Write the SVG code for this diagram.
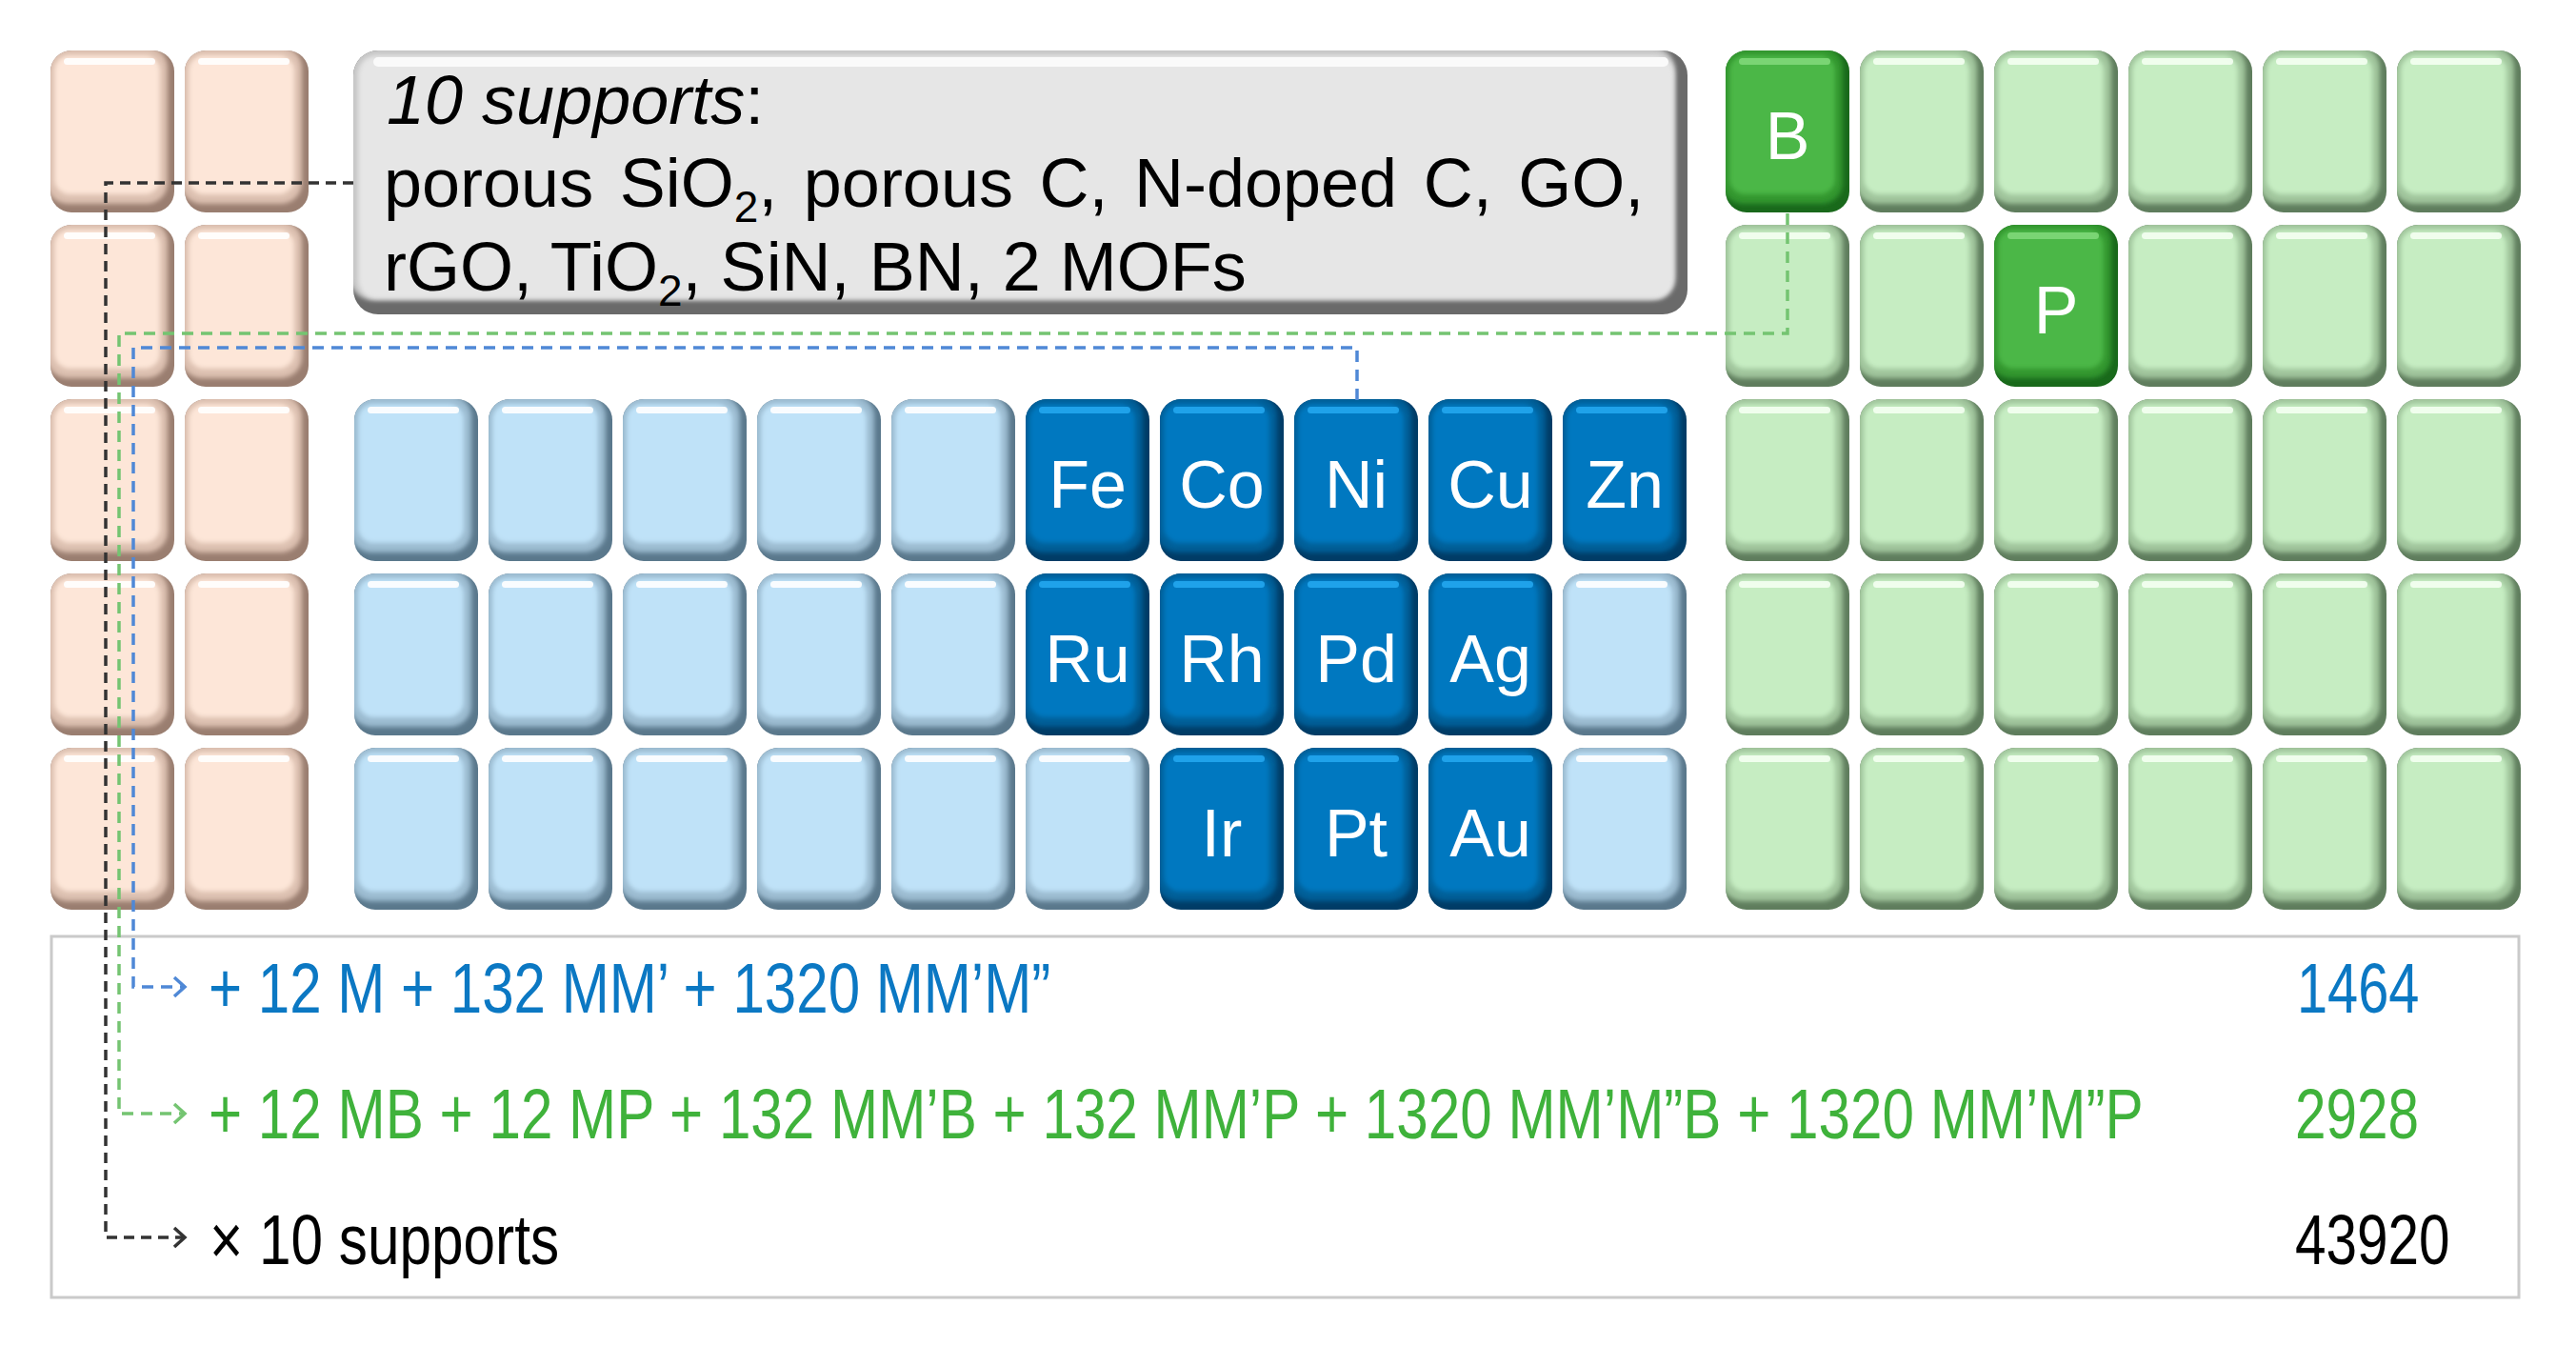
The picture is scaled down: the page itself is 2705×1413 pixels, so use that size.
<svg xmlns="http://www.w3.org/2000/svg" width="2705" height="1413" viewBox="0 0 2705 1413">
<style>
.lbl{font-family:"Liberation Sans",Arial,sans-serif;font-size:70px;fill:#fff;text-anchor:middle}
.sup{font-family:"Liberation Sans",Arial,sans-serif;font-size:72px;fill:#000}
.btm{font-family:"Liberation Sans",Arial,sans-serif;font-size:74px}
.tb{fill:#0b78c3}.tg{fill:#3fb23b}.tk{fill:#000}
.con{fill:none;stroke-width:3.5}
.ck{stroke:#333;stroke-dasharray:11 7;marker-end:url(#ak)}
.cg{stroke:#74c471;stroke-dasharray:12 8;marker-end:url(#ag)}
.cb{stroke:#4f88d6;stroke-dasharray:12 8;marker-end:url(#ab)}
</style>
<defs>
<clipPath id="tc"><rect width="130" height="170" rx="22"/></clipPath>
<clipPath id="sc"><rect x="371" y="53" width="1401" height="277" rx="26"/></clipPath>
<filter id="sf" x="-20%" y="-20%" width="140%" height="140%"><feGaussianBlur stdDeviation="2.5"/></filter>
<marker id="ak" markerUnits="userSpaceOnUse" markerWidth="18" markerHeight="24" refX="14" refY="12" orient="auto"><path d="M3,2 L14,12 L3,22" fill="none" stroke="#333" stroke-width="3.5"/></marker>
<marker id="ag" markerUnits="userSpaceOnUse" markerWidth="18" markerHeight="24" refX="14" refY="12" orient="auto"><path d="M3,2 L14,12 L3,22" fill="none" stroke="#74c471" stroke-width="3.5"/></marker>
<marker id="ab" markerUnits="userSpaceOnUse" markerWidth="18" markerHeight="24" refX="14" refY="12" orient="auto"><path d="M3,2 L14,12 L3,22" fill="none" stroke="#4f88d6" stroke-width="3.5"/></marker>
<g id="t-peach"><g clip-path="url(#tc)">
<rect width="130" height="170" fill="#9a7e70"/>
<rect x="-4" y="-4" width="127" height="165" rx="22" fill="#dcc0b0" filter="url(#sf)"/>
<rect x="4" y="5" width="111" height="146" rx="16" fill="#fde6d8" filter="url(#sf)"/>
<rect x="14" y="8" width="96" height="7" rx="3.5" fill="#fff" opacity=".9"/>
</g></g>
<g id="t-lblue"><g clip-path="url(#tc)">
<rect width="130" height="170" fill="#5a788c"/>
<rect x="-4" y="-4" width="127" height="165" rx="22" fill="#9bbbd0" filter="url(#sf)"/>
<rect x="4" y="5" width="111" height="146" rx="16" fill="#bfe2f8" filter="url(#sf)"/>
<rect x="14" y="8" width="96" height="7" rx="3.5" fill="#fff" opacity=".9"/>
</g></g>
<g id="t-dblue"><g clip-path="url(#tc)">
<rect width="130" height="170" fill="#003c66"/>
<rect x="-4" y="-4" width="127" height="165" rx="22" fill="#005e98" filter="url(#sf)"/>
<rect x="4" y="5" width="111" height="146" rx="16" fill="#0078c0" filter="url(#sf)"/>
<rect x="14" y="8" width="96" height="7" rx="3.5" fill="#22a6ee" opacity=".9"/>
</g></g>
<g id="t-lgreen"><g clip-path="url(#tc)">
<rect width="130" height="170" fill="#5f7d5d"/>
<rect x="-4" y="-4" width="127" height="165" rx="22" fill="#a0c59c" filter="url(#sf)"/>
<rect x="4" y="5" width="111" height="146" rx="16" fill="#c6edc2" filter="url(#sf)"/>
<rect x="14" y="8" width="96" height="7" rx="3.5" fill="#f4fff2" opacity=".9"/>
</g></g>
<g id="t-dgreen"><g clip-path="url(#tc)">
<rect width="130" height="170" fill="#19691b"/>
<rect x="-4" y="-4" width="127" height="165" rx="22" fill="#32962e" filter="url(#sf)"/>
<rect x="4" y="5" width="111" height="146" rx="16" fill="#4bb747" filter="url(#sf)"/>
<rect x="14" y="8" width="96" height="7" rx="3.5" fill="#7fd879" opacity=".9"/>
</g></g>
</defs>
<rect width="2705" height="1413" fill="#fff"/>

<!-- peach tiles -->
<g id="peach">
<g id="pe-1-1"><use href="#t-peach" x="53" y="53"/></g>
<g id="pe-1-2"><use href="#t-peach" x="194" y="53"/></g>
<g id="pe-2-1"><use href="#t-peach" x="53" y="236"/></g>
<g id="pe-2-2"><use href="#t-peach" x="194" y="236"/></g>
<g id="pe-3-1"><use href="#t-peach" x="53" y="419"/></g>
<g id="pe-3-2"><use href="#t-peach" x="194" y="419"/></g>
<g id="pe-4-1"><use href="#t-peach" x="53" y="602"/></g>
<g id="pe-4-2"><use href="#t-peach" x="194" y="602"/></g>
<g id="pe-5-1"><use href="#t-peach" x="53" y="785"/></g>
<g id="pe-5-2"><use href="#t-peach" x="194" y="785"/></g>
</g>

<!-- transition metal tiles -->
<g id="tm">
<g id="lb-3-1"><use href="#t-lblue" x="372" y="419"/></g>
<g id="lb-3-2"><use href="#t-lblue" x="513" y="419"/></g>
<g id="lb-3-3"><use href="#t-lblue" x="654" y="419"/></g>
<g id="lb-3-4"><use href="#t-lblue" x="795" y="419"/></g>
<g id="lb-3-5"><use href="#t-lblue" x="936" y="419"/></g>
<g id="fe"><use href="#t-dblue" x="1077" y="419"/><text class="lbl" x="1142" y="533">Fe</text></g>
<g id="co"><use href="#t-dblue" x="1218" y="419"/><text class="lbl" x="1283" y="533">Co</text></g>
<g id="ni"><use href="#t-dblue" x="1359" y="419"/><text class="lbl" x="1424" y="533">Ni</text></g>
<g id="cu"><use href="#t-dblue" x="1500" y="419"/><text class="lbl" x="1565" y="533">Cu</text></g>
<g id="zn"><use href="#t-dblue" x="1641" y="419"/><text class="lbl" x="1706" y="533">Zn</text></g>

<g id="lb-4-1"><use href="#t-lblue" x="372" y="602"/></g>
<g id="lb-4-2"><use href="#t-lblue" x="513" y="602"/></g>
<g id="lb-4-3"><use href="#t-lblue" x="654" y="602"/></g>
<g id="lb-4-4"><use href="#t-lblue" x="795" y="602"/></g>
<g id="lb-4-5"><use href="#t-lblue" x="936" y="602"/></g>
<g id="ru"><use href="#t-dblue" x="1077" y="602"/><text class="lbl" x="1142" y="716">Ru</text></g>
<g id="rh"><use href="#t-dblue" x="1218" y="602"/><text class="lbl" x="1283" y="716">Rh</text></g>
<g id="pd"><use href="#t-dblue" x="1359" y="602"/><text class="lbl" x="1424" y="716">Pd</text></g>
<g id="ag"><use href="#t-dblue" x="1500" y="602"/><text class="lbl" x="1565" y="716">Ag</text></g>
<g id="lb-4-10"><use href="#t-lblue" x="1641" y="602"/></g>

<g id="lb-5-1"><use href="#t-lblue" x="372" y="785"/></g>
<g id="lb-5-2"><use href="#t-lblue" x="513" y="785"/></g>
<g id="lb-5-3"><use href="#t-lblue" x="654" y="785"/></g>
<g id="lb-5-4"><use href="#t-lblue" x="795" y="785"/></g>
<g id="lb-5-5"><use href="#t-lblue" x="936" y="785"/></g>
<g id="lb-5-6"><use href="#t-lblue" x="1077" y="785"/></g>
<g id="ir"><use href="#t-dblue" x="1218" y="785"/><text class="lbl" x="1283" y="899">Ir</text></g>
<g id="pt"><use href="#t-dblue" x="1359" y="785"/><text class="lbl" x="1424" y="899">Pt</text></g>
<g id="au"><use href="#t-dblue" x="1500" y="785"/><text class="lbl" x="1565" y="899">Au</text></g>
<g id="lb-5-10"><use href="#t-lblue" x="1641" y="785"/></g>
</g>

<!-- main group tiles -->
<g id="pblock">
<g id="b"><use href="#t-dgreen" x="1812" y="53"/><text class="lbl" x="1877" y="167">B</text></g>
<g id="lg-1-2"><use href="#t-lgreen" x="1953" y="53"/></g>
<g id="lg-1-3"><use href="#t-lgreen" x="2094" y="53"/></g>
<g id="lg-1-4"><use href="#t-lgreen" x="2235" y="53"/></g>
<g id="lg-1-5"><use href="#t-lgreen" x="2376" y="53"/></g>
<g id="lg-1-6"><use href="#t-lgreen" x="2517" y="53"/></g>
<g id="lg-2-1"><use href="#t-lgreen" x="1812" y="236"/></g>
<g id="lg-2-2"><use href="#t-lgreen" x="1953" y="236"/></g>
<g id="p"><use href="#t-dgreen" x="2094" y="236"/><text class="lbl" x="2159" y="350">P</text></g>
<g id="lg-2-4"><use href="#t-lgreen" x="2235" y="236"/></g>
<g id="lg-2-5"><use href="#t-lgreen" x="2376" y="236"/></g>
<g id="lg-2-6"><use href="#t-lgreen" x="2517" y="236"/></g>
<g id="lg-3-1"><use href="#t-lgreen" x="1812" y="419"/></g>
<g id="lg-3-2"><use href="#t-lgreen" x="1953" y="419"/></g>
<g id="lg-3-3"><use href="#t-lgreen" x="2094" y="419"/></g>
<g id="lg-3-4"><use href="#t-lgreen" x="2235" y="419"/></g>
<g id="lg-3-5"><use href="#t-lgreen" x="2376" y="419"/></g>
<g id="lg-3-6"><use href="#t-lgreen" x="2517" y="419"/></g>
<g id="lg-4-1"><use href="#t-lgreen" x="1812" y="602"/></g>
<g id="lg-4-2"><use href="#t-lgreen" x="1953" y="602"/></g>
<g id="lg-4-3"><use href="#t-lgreen" x="2094" y="602"/></g>
<g id="lg-4-4"><use href="#t-lgreen" x="2235" y="602"/></g>
<g id="lg-4-5"><use href="#t-lgreen" x="2376" y="602"/></g>
<g id="lg-4-6"><use href="#t-lgreen" x="2517" y="602"/></g>
<g id="lg-5-1"><use href="#t-lgreen" x="1812" y="785"/></g>
<g id="lg-5-2"><use href="#t-lgreen" x="1953" y="785"/></g>
<g id="lg-5-3"><use href="#t-lgreen" x="2094" y="785"/></g>
<g id="lg-5-4"><use href="#t-lgreen" x="2235" y="785"/></g>
<g id="lg-5-5"><use href="#t-lgreen" x="2376" y="785"/></g>
<g id="lg-5-6"><use href="#t-lgreen" x="2517" y="785"/></g>
</g>

<!-- supports box -->
<g id="supports">
<g clip-path="url(#sc)">
<rect x="371" y="53" width="1401" height="277" fill="#6a6a6a"/>
<rect x="366" y="48" width="1393" height="267" rx="26" fill="#c6c6c6" filter="url(#sf)"/>
<rect x="376" y="58" width="1382" height="256" rx="20" fill="#e6e6e6" filter="url(#sf)"/>
<rect x="392" y="60" width="1360" height="10" rx="5" fill="#fafafa"/>
</g>
<text class="sup" x="406" y="130"><tspan font-style="italic">10 supports</tspan>:</text>
<text class="sup" x="403" y="217" word-spacing="7.5">porous SiO<tspan dy="16" font-size="46">2</tspan><tspan dy="-16">, porous C, N-doped C, GO,</tspan></text>
<text class="sup" x="403" y="305">rGO, TiO<tspan dy="16" font-size="46">2</tspan><tspan dy="-16">, SiN, BN, 2 MOFs</tspan></text>
</g>

<!-- result box -->
<g id="results">
<rect x="54" y="983" width="2591" height="379" fill="#fff" stroke="#cacaca" stroke-width="3"/>
<text class="btm tb" transform="translate(219,1063) scale(0.812,1)">+ 12 M + 132 MM’ + 1320 MM’M”</text>
<text class="btm tb" transform="translate(2412,1063) scale(0.78,1)">1464</text>
<text class="btm tg" transform="translate(219,1195) scale(0.8136,1)">+ 12 MB + 12 MP + 132 MM’B + 132 MM’P + 1320 MM’M”B + 1320 MM’M”P</text>
<text class="btm tg" transform="translate(2410,1195) scale(0.79,1)">2928</text>
<text class="btm tk" transform="translate(220,1327) scale(0.815,1)">× 10 supports</text>
<text class="btm tk" transform="translate(2410,1327) scale(0.79,1)">43920</text>
</g>

<!-- connectors -->
<g id="connectors">
<path class="con ck" d="M371,192 H111 V1299 H194"/>
<path class="con cg" d="M1877,224 V350 H125 V1169 H194"/>
<path class="con cb" d="M1425,420 V365 H140 V1036 H194"/>
</g>
</svg>
